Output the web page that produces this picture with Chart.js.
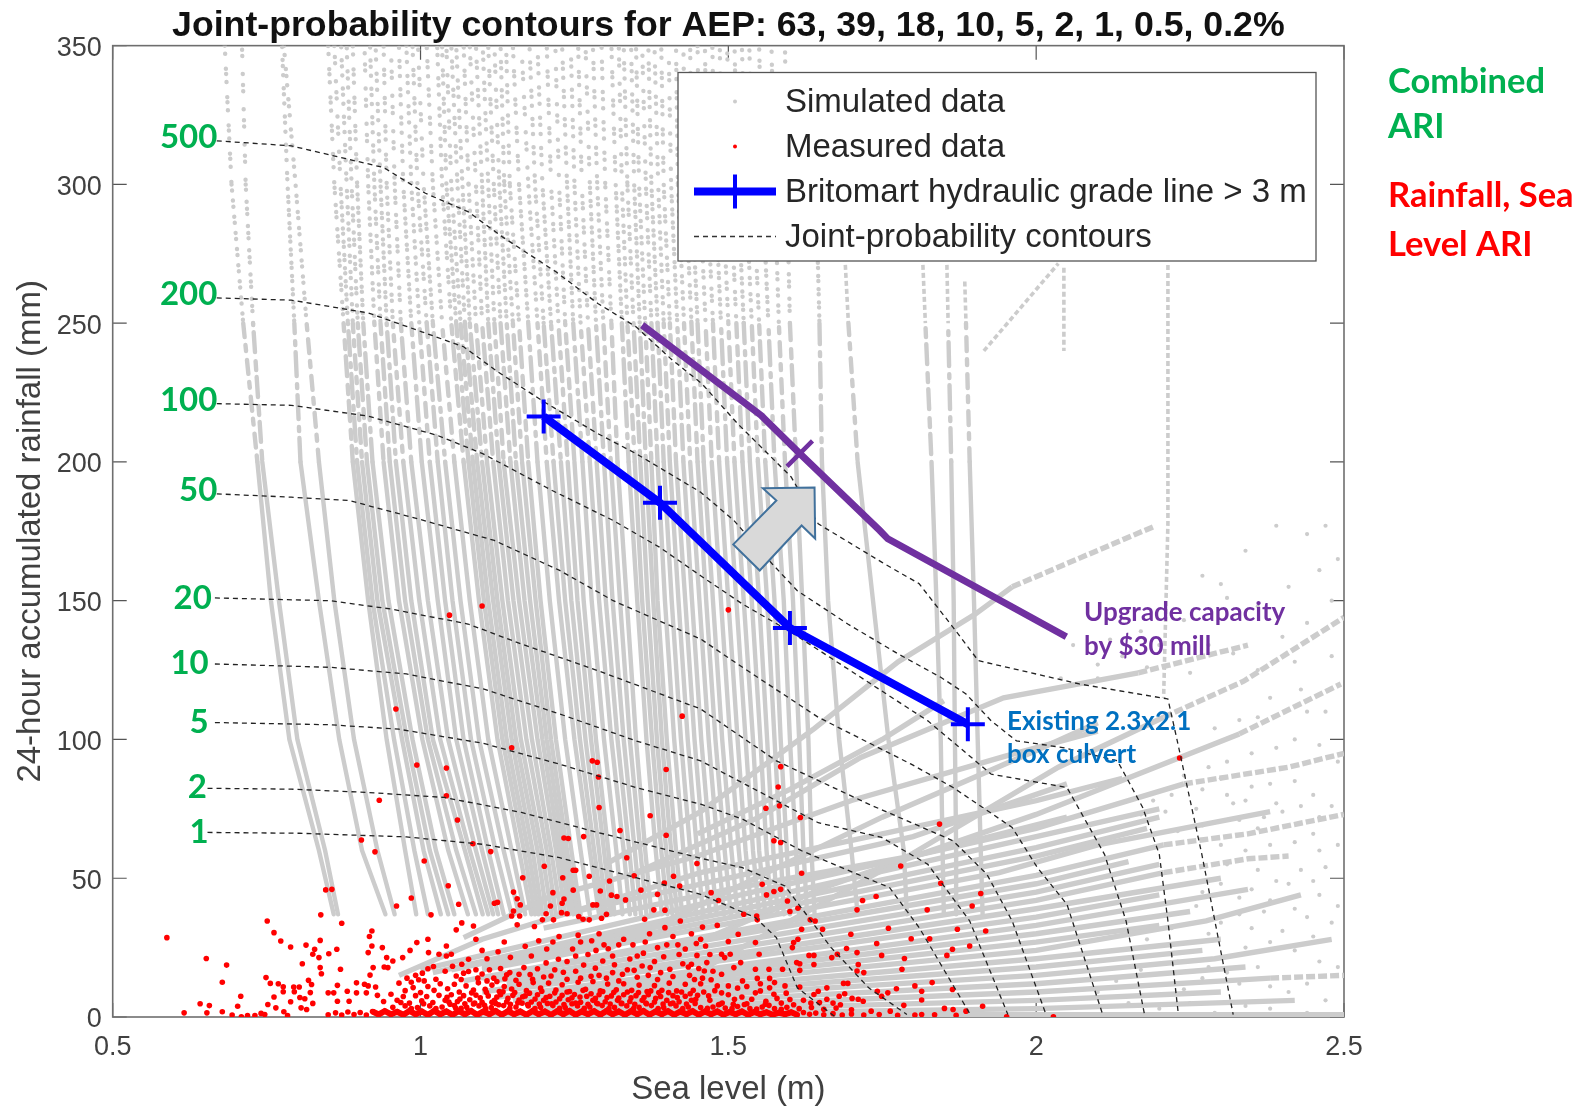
<!DOCTYPE html>
<html>
<head>
<meta charset="utf-8">
<title>Joint-probability contours</title>
<script src="https://cdn.jsdelivr.net/npm/chart.js@4/dist/chart.umd.min.js"></script>
<style>
  body { margin: 0; background: #fff; }
  canvas { display: block; }
</style>
</head>
<body>
<canvas id="joint-chart" width="1592" height="1107"></canvas>
<script>
const titleText = 'Joint-probability contours for AEP: 63, 39, 18, 10, 5, 2, 1, 0.5, 0.2%';
const xTicks = [0.5, 1, 1.5, 2, 2.5];
const yTicks = [0, 50, 100, 150, 200, 250, 300, 350];
const legendLabels = ['Simulated data', 'Measured data', 'Britomart hydraulic grade line > 3 m', 'Joint-probability contours'];

// contours, one per ARI
const ariNames = ['500', '200', '100', '50', '20', '10', '5', '2', '1'];
const ariLabelX = [0.67, 0.67, 0.67, 0.67, 0.661, 0.656, 0.656, 0.653, 0.656];
const ariLabelY = [317, 260.4, 222.3, 189.7, 151, 127.5, 106, 82.9, 66.5];
const c500 = [[.669,315.7],[.79,313.9],[.853,310.6],[.94,306.1],[1.008,296.8],[1.077,290.2],[1.133,281.1],[1.22,268.5],[1.288,257.1],[1.35,248.7],[1.409,236.7],[1.457,228.2],[1.515,213.8],[1.602,194.6],[1.646,177.7],[1.749,163.9],[1.81,156.1],[1.865,140.4],[1.906,128.4],[2.07,120],[2.214,114.6],[2.228,100.7],[2.269,58.7],[2.32,.9]];
const c200 = [[.669,259.1],[.79,258.3],[.915,253.7],[1.002,246.9],[1.07,241.5],[1.126,232.4],[1.201,221.6],[1.288,210.2],[1.35,203],[1.455,189.1],[1.509,178.9],[1.571,163.3],[1.612,153.6],[1.694,141.6],[1.776,130.8],[1.845,122.4],[1.886,116.4],[1.927,106.7],[1.968,99.5],[2.043,97.1],[2.132,92.3],[2.173,75.5],[2.2,58.6],[2.214,34.6],[2.231,.9]];
const c100 = [[.669,221],[.79,220.4],[.915,216.5],[1.027,209.6],[1.101,203],[1.213,189.8],[1.313,178.9],[1.388,169.3],[1.455,159],[1.523,148.8],[1.598,139.2],[1.715,122.4],[1.824,106.7],[1.927,87.5],[2.05,82.7],[2.111,58.6],[2.146,34.6],[2.176,.9]];
const c50 = [[.669,188.5],[.79,187.3],[.884,186.1],[.996,179.5],[1.12,171.7],[1.226,160.9],[1.313,150],[1.455,136.2],[1.523,126],[1.646,108],[1.797,91.1],[1.865,82.7],[1.961,68.3],[2.002,53.8],[2.05,40.6],[2.108,.9]];
const c20 = [[.666,151],[.853,150],[.952,147],[1.077,141.6],[1.164,134.4],[1.288,124.8],[1.455,111],[1.578,92.3],[1.728,76.7],[1.865,63.5],[1.92,51.4],[1.961,34.6],[2.016,.9]];
const c10 = [[.666,127.2],[.853,126],[.977,123.6],[1.102,118.2],[1.226,109.2],[1.35,99.5],[1.455,92.3],[1.646,70],[1.749,64.7],[1.824,55],[1.892,34.6],[1.954,.9]];
const c5 = [[.666,106.1],[.853,105.3],[.965,103.7],[1.102,98.6],[1.226,91.1],[1.35,82.7],[1.455,76.7],[1.523,71.3],[1.619,59.9],[1.762,46.6],[1.81,32.2],[1.893,.9]];
const c2 = [[.654,82.4],[.79,82.1],[.915,80.9],[1.039,79.1],[1.164,73.7],[1.288,66.5],[1.455,57.2],[1.523,53.8],[1.592,47.2],[1.667,25],[1.728,10.5],[1.79,.9]];
const c1 = [[.654,66.5],[.803,66.2],[.977,64.9],[1.102,62.2],[1.226,57.4],[1.35,50.2],[1.455,44.2],[1.544,35.8],[1.578,28.6],[1.612,10.5],[1.674,0]];
const contours = [c500, c200, c100, c50, c20, c10, c5, c2, c1];

const blueLine = [[1.2,216.4],[1.389,185.3],[1.6,140.2],[1.889,105.5]];
const purpleLine = [[1.36,249.3],[1.553,216.8],[1.616,203],[1.746,175.3],[1.759,172.3],[1.893,156],[2.049,137]];
const purpleMark = [[1.616,203]];
const arrowShape = [[1.556,190.5],[1.64,190.8],[1.641,172.4],[1.619,177.1],[1.551,160.9],[1.508,170.3],[1.578,186.1]];

// near-vertical simulated streams: x at each rainfall level, null where the stream has no points
const streamLevels = [350, 300, 250, 200, 150, 100, 60, 37];
const streamRows = [
  [.682,.693,.712,.735,.757,.787,.835,.859],
  [.710,.716,.728,.743,.770,.800,.845,.866],
  [.775,.784,.795,.805,.835,.868,.905,.943],
  [.778,.797,.815,.835,.860,.892,.930,.958],
  [.850,.860,.875,.890,.915,.945,.975,.993],
  [.86,.87,.882,.897,.922,.957,.99,1.012],
  [.871,.880,.890,.905,.930,.970,1.005,1.033],
  [.88,.888,.898,.913,.938,.978,1.015,1.045],
  [.89,.897,.907,.922,.948,.987,1.025,1.055],
  [.909,.915,.925,.940,.965,1.003,1.045,1.077],
  [.918,.925,.935,.95,.975,1.012,1.058,1.09],
  [.927,.935,.945,.960,.985,1.020,1.072,1.101],
  [.94,.945,.955,.972,.998,1.032,1.08,1.11],
  [.952,.958,.968,.985,1.012,1.045,1.09,1.118],
  [.965,.972,.985,1.002,1.028,1.058,1.10,1.126],
  [.977,.985,.998,1.015,1.04,1.07,1.11,1.135],
  [.987,.995,1.01,1.028,1.052,1.082,1.122,1.148],
  [.996,1.005,1.02,1.04,1.065,1.095,1.135,1.160],
  [1.01,1.02,1.035,1.055,1.08,1.11,1.148,1.17],
  [1.027,1.035,1.05,1.07,1.095,1.125,1.16,1.18],
  [1.035,1.042,1.058,1.078,1.103,1.133,1.168,1.186],
  [1.042,1.05,1.065,1.085,1.11,1.14,1.175,1.192],
  [1.05,1.06,1.072,1.092,1.118,1.148,1.182,1.198],
  [1.058,1.068,1.08,1.10,1.125,1.155,1.19,1.205],
  [1.07,1.078,1.09,1.108,1.133,1.163,1.197,1.213],
  [1.080,1.09,1.10,1.118,1.142,1.172,1.205,1.22],
  [1.09,1.1,1.11,1.127,1.151,1.181,1.212,1.228],
  [1.101,1.11,1.12,1.135,1.16,1.19,1.22,1.235],
  [1.11,1.119,1.13,1.146,1.169,1.198,1.226,1.242],
  [1.120,1.128,1.14,1.155,1.178,1.205,1.232,1.248],
  [1.13,1.136,1.15,1.165,1.187,1.212,1.238,1.254],
  [1.139,1.145,1.16,1.175,1.195,1.22,1.245,1.26],
  [1.15,1.16,1.175,1.19,1.21,1.235,1.26,1.275],
  [1.164,1.175,1.19,1.205,1.225,1.25,1.275,1.29],
  [1.177,1.186,1.2,1.216,1.235,1.259,1.282,1.296],
  [1.190,1.198,1.212,1.228,1.245,1.268,1.29,1.302],
  [1.205,1.212,1.224,1.239,1.255,1.277,1.298,1.309],
  [1.219,1.225,1.235,1.25,1.265,1.285,1.305,1.315],
  [1.23,1.238,1.248,1.263,1.278,1.298,1.318,1.328],
  [1.244,1.25,1.26,1.275,1.29,1.31,1.33,1.34],
  [1.256,1.262,1.272,1.286,1.301,1.32,1.339,1.349],
  [1.268,1.275,1.285,1.298,1.312,1.33,1.348,1.358],
  [1.28,1.287,1.297,1.309,1.324,1.34,1.357,1.367],
  [1.294,1.30,1.31,1.32,1.335,1.35,1.365,1.375],
  [1.31,1.317,1.327,1.338,1.352,1.367,1.382,1.392],
  [1.322,1.327,1.336,1.348,1.36,1.376,1.391,1.401],
  [1.33,1.336,1.346,1.357,1.369,1.384,1.399,1.409],
  [1.342,1.347,1.356,1.366,1.378,1.392,1.407,1.417],
  [1.350,1.355,1.365,1.375,1.385,1.40,1.415,1.425],
  [1.36,1.366,1.375,1.385,1.397,1.412,1.427,1.437],
  [1.37,1.375,1.385,1.395,1.408,1.423,1.438,1.448],
  [1.38,1.386,1.395,1.405,1.419,1.434,1.449,1.459],
  [1.391,1.395,1.405,1.415,1.43,1.445,1.46,1.47],
  [1.403,1.407,1.417,1.427,1.441,1.456,1.471,1.481],
  [1.415,1.418,1.428,1.438,1.453,1.468,1.483,1.493],
  [1.427,1.43,1.44,1.45,1.464,1.479,1.494,1.504],
  [1.438,1.44,1.45,1.46,1.475,1.49,1.505,1.515],
  [1.45,1.453,1.463,1.473,1.488,1.503,1.517,1.527],
  [1.462,1.465,1.475,1.485,1.5,1.515,1.528,1.538],
  [1.474,1.478,1.488,1.498,1.513,1.528,1.54,1.55],
  [1.486,1.49,1.50,1.51,1.525,1.54,1.55,1.56],
  [1.498,1.503,1.513,1.523,1.538,1.552,1.562,1.57],
  [1.51,1.515,1.525,1.535,1.55,1.563,1.573,1.58],
  [1.522,1.528,1.538,1.548,1.563,1.575,1.585,1.59],
  [1.534,1.54,1.55,1.56,1.575,1.585,1.595,1.60],
  [1.55,1.555,1.565,1.575,1.59,1.6,1.61,1.615],
  [1.57,1.575,1.582,1.592,1.605,1.615,1.622,1.628],
  [1.592,1.595,1.60,1.61,1.62,1.63,1.635,1.64],
  [null,1.642,1.648,1.652,1.662,1.68,1.70,1.71],
  [null,null,1.695,1.71,1.735,1.76,1.785,1.79],
  [null,null,1.82,1.83,1.838,1.845,1.848,1.85],
  [null,null,1.857,1.862,1.866,1.868,1.87,1.87],
  [null,null,1.886,1.892,1.899,1.905,1.91,1.913]
];

// rising simulated streams, fanning out to the lower right
const fanLines = [
  [[1.10,.8],[2.5,.8]],
  [[1.2,.6],[2,3],[2.42,6]],
  [[1.25,1.5],[2,6],[2.3,9]],
  [[1.22,2],[2,9],[2.38,14],[2.5,15]],
  [[1.2,3],[2,12],[2.34,18]],
  [[1.18,4],[2,15],[2.29,21],[2.48,28]],
  [[1.2,5],[2,18],[2.27,24]],
  [[1.16,5],[2,21],[2.3,28]],
  [[1.15,6],[2,24],[2.276,34.6],[2.43,44]],
  [[1.2,8],[2,27],[2.2,33]],
  [[1.17,8],[2,30],[2.25,38]],
  [[1.12,7],[2,33],[2.344,46]],
  [[1.15,10],[2,36],[2.2,44]],
  [[1.1,9],[2,39],[2.3,50]],
  [[1.14,12],[2,42],[2.207,52],[2.344,57],[2.41,58]],
  [[1.12,13],[2,45],[2.2,55]],
  [[1.1,14],[2,48],[2.15,56]],
  [[1.07,13],[2,51],[2.207,62],[2.344,66],[2.5,73]],
  [[1.1,17],[1.94,52],[2.1,62],[2.38,74]],
  [[1.1,18],[2,58],[2.18,68]],
  [[1.05,17],[2,61],[2.2,72]],
  [[1.02,16],[1.5,40],[2,65],[2.2,75]],
  [[1.0,17],[1.5,43],[2,68],[2.24,84],[2.41,90],[2.5,95]],
  [[1.2,3],[1.66,47],[2,73],[2.33,102],[2.495,120]],
  [[.965,15],[1.10,28],[1.455,52],[1.75,66],[2,78],[2.14,86]],
  [[1.35,4],[1.8,59],[2.036,90],[2.207,108],[2.337,121],[2.5,144]],
  [[1.07,28.6],[1.207,43],[1.45,58],[1.7,78],[1.95,94],[2.1,103]],
  [[1.3,24],[1.6,56],[1.75,72],[2,96],[2.1,106]],
  [[1.35,52],[1.55,72],[1.715,93.5],[1.947,115],[2.166,124],[2.344,134]],
  [[1.3,55],[1.455,74],[1.64,104],[1.776,128],[1.9,145],[1.961,155],[2.194,177]],
  [[1.45,66],[1.6,82],[1.75,100],[1.85,114]],
  [[1.2,32],[1.5,46],[1.8,58],[2.05,72]],
  [[1.25,38],[1.5,50],[1.8,65],[2.05,84]]
];
// short streaks in the upper right and the top ends of the last streams
const extraStreaks = [
  [[2.214,271],[2.214,178],[2.207,115]],
  [[2.045,270],[2.045,240]],
  [[1.915,240],[2.036,271.5]],
  [[1.816,271],[1.82,250]],
  [[1.855,271],[1.857,250]],
  [[1.884,265],[1.886,250]],
  [[1.69,271],[1.695,250]]
];
// loose simulated points on the right
const simDots = [[2.47,177],[2.44,174],[2.39,177],[2.34,168],[2.27,159],[2.31,151],[2.24,143],[2.17,139],[2.12,136],[2.06,134],[2.49,165],[2.46,161],[2.41,155],[2.36,148],[2.30,156],[2.04,122],[2.1,127],[2.18,126],[2.25,124],[2.36,125],[2.42,128],[2.47,110],[2.44,110],[2.36,108],[2.33,107],[2.29,104],[2.42,100],[2.46,98],[2.49,92],[2.38,84],[2.35,83],[2.30,86],[2.27,82],[2.42,85],[2.45,80],[2.48,76],[2.39,77],[2.32,77],[2.26,75],[2.21,74],[2.17,73],[2.36,68],[2.33,71],[2.27,69],[2.23,67],[2.41,69],[2.45,66],[2.49,62],[2.47,54],[2.43,53],[2.39,49],[2.35,46],[2.30,48],[2.27,45],[2.46,44],[2.49,40],[2.42,39],[2.37,38],[2.33,37],[2.28,30],[2.34,25],[2.38,27],[2.42,24],[2.46,20],[2.36,18],[2.31,16],[2.27,14],[2.41,9],[2.47,6],[2.34,4],[2.2,3],[2.44,1.5],[2.29,1.5],[2.13,13],[2.17,17],[2.1,9],[2.24,10],
  [2.24,87],[2.22,80],[2.19,78],[2.28,90],[2.31,92],[2.35,95],[2.39,97],[2.31,80],[2.34,78],[2.37,72],[2.4,74],[2.43,76],[2.46,72],[2.3,62],[2.34,60],[2.38,62],[2.42,63],[2.46,60],[2.31,55],[2.36,53],[2.41,48],[2.45,49],[2.33,43],[2.38,42],[2.44,36],[2.48,34],[2.3,34],[2.35,32],[2.4,31],[2.45,29],[2.26,40],[2.22,32],[2.18,28],[2.23,20],[2.28,18],[2.33,12],[2.38,11],[2.44,12],[2.49,18],[2.15,5],[2.25,5],[2.38,3],[2.1,122],[2.14,130],[2.2,134],[2.28,134],[2.32,131],[2.4,137],[2.44,142],[2.48,150],[2.38,115],[2.43,118],[2.48,130]];

// measured data: loose points, the dense cloud, then the band along the axis
const measuredLoose = [[1.1,148.1],[1.047,144.8],[.96,111],[.994,90.8],[1.042,89.7],[1.148,97],[1.425,108.4],[1.279,92.3],[1.287,91.8],[1.399,89.2],[1.289,86.5],[1.29,75.5],[.933,78.1],[1.042,79.7],[1.06,71],[1.373,72.5],[1.324,67.2],[1.399,65.5],[.904,63.8],[.926,59.5],[1.085,62.4],[1.114,59.6],[1.233,64.5],[1.24,64.3],[1.265,65],[1.006,56.2],[1.335,57.4],[1.449,55.3],[1.201,54.3],[1.248,52.9],[1.252,52.9],[1.166,50.2],[1.231,50.2],[1.274,50.7],[1.307,49],[1.347,50.9],[1.411,50.7],[1.396,48.3],[1.421,47.2],[.846,45.8],[.856,46],[1.045,47.3],[1.248,45.7],[1.292,45.4],[1.358,45.7],[1.151,45],[1.215,44.8],[.985,42.9],[1.31,43.9],[1.319,43.4],[1.333,42.2],[1.385,44.2],[1.12,41],[1.125,41.3],[1.157,42.6],[1.162,40.4],[1.233,42.5],[1.23,41],[1.062,40.6],[1.28,40.4],[1.286,40.4],[.961,40],[1.379,38.6],[1.397,38.5],[1.211,40],[1.151,38.2],[1.148,36.4],[1.161,36.4],[1.017,36.8],[1.204,37.2],[1.229,37.6],[1.238,37.2],[1.302,37],[1.257,36.2],[1.264,35.2],[1.274,35],[1.294,35.6],[.838,36.8],[.751,34.6],[.872,33.8],[1.198,35],[1.216,35],[1.157,33.2],[1.185,32.6],[1.364,35.2],[1.422,34.6],[1.397,32.2],[.921,31],[.917,29],[1.086,32.8],[1.058,31.4],[1.067,33.9],[.588,28.6],[.762,30.4],[.773,27.4],[.789,25.2],[.814,25.9],[.837,27.6],[.828,24.4],[.864,24.4],[.825,22.6],[.851,22.8],[.835,21.4],[.652,21.1],[.685,18.7],[.808,19.2],[.837,17.8],[.839,15.6],[.87,17.2],[.749,14.2],[.678,12.5],[.756,12.1],[.769,12],[.818,13.2],[.823,11.7],[.708,7.5],[.642,4.8],[.657,4.1],[.703,3.9],[.616,1.5],[.653,1.5],[.794,10.8],[.803,10.8],[.777,10.9],[.777,9.1],[.795,9.1],[.821,8.8],[.762,7.2],[.804,7],[.812,6.6],[.752,4.5],[.789,5.5],[.765,3.3],[.778,1.9],[.825,4.9],[.806,3.3],[.815,2.7],[.678,1.9],[.694,.7],[.709,.1],[.719,.5],[.731,.5],[.741,1.3],[.747,.9],[.784,.5],
  [1.5,146.7],[1.585,90.2],[1.581,82.9],[1.561,75.2],[1.583,76.1],[1.617,71.9],[1.843,69.5],[2.233,93.3],[1.574,63.5],[1.585,62.9],[1.619,51.8],[1.78,54.4],[1.555,47.8],[1.585,46],[1.574,45.2],[1.562,44],[1.845,48.2],[1.91,44.5],[1.472,44.8],[1.596,41.8],[1.484,42],[1.718,42],[1.74,43.4],[1.896,40],[1.525,37],[1.546,36.4],[1.613,39.2],[1.6,38],[1.709,38.6],[1.823,38.6],[1.633,35],[1.641,34.6],[1.547,35],[1.458,32.4],[1.482,33],[1.619,31.6],[1.653,31.6],[1.76,32],[1.872,31.6],[1.918,31],[1.516,29.8],[1.699,29.8],[1.797,28.2],[1.827,28.2],[1.613,28],[1.606,26.8],[1.544,26.8],[1.5,27.2],[1.463,25.6],[1.604,25],[1.741,26.5],[1.892,25.6],[1.692,24.7],[1.709,23.2],[1.864,24.4],[1.855,22.2],[1.489,22.6],[1.503,22.6],[1.494,21.4],[1.55,22.6],[1.631,22.2],[1.639,22.2],[1.677,22.6],[1.668,21.4],[1.749,22.2],[1.786,21.1],[1.611,19.6],[1.616,19.2],[1.639,18.9],[1.711,18.9],[1.782,17.2],[1.52,19.6],[1.509,17.8],[1.544,17.2],[1.566,17.2],[1.588,17.2],[1.616,16.8],[1.709,16.6],[1.72,16],[1.465,19.6],[1.461,16.6],[1.489,15.4],[1.523,13],[1.547,13.9],[1.567,13.9],[1.831,12.4],[1.687,12.1],[1.694,12.1],[1.66,10.5],[1.646,9.3],[1.616,10.8],[1.567,10.5],[1.489,8.7],[1.803,11.2],[1.814,9.3],[1.773,10.2],[1.759,8.7],[1.742,9.3],[1.749,7.5],[1.864,9.9],[1.689,8.4],[1.68,7.5],[1.639,8.1],[1.6,6.3],[1.579,6.7],[1.561,5.7],[1.544,8.7],[1.701,6.7],[1.711,6.4],[1.719,5.7],[1.66,6.4],[1.814,6.1],[1.785,4.2],[1.913,3.9],[1.851,3.1],[1.865,2.7],[1.886,2.1],[1.763,2.1],[1.732,2.1],[1.803,.7],[1.814,.9],[1.952,.1],[2.028,.1]
];
const measuredCloud = [[.921,25.6],[.938,25],[.915,23.2],[.945,21.4],[.955,20.2],[.971,21.4],[.983,24],[.994,26.8],[1.012,28],[1.013,23.2],[1.042,25.6],[1.03,22.6],[1.042,22],[1.05,22.6],[1.078,20.8],[1.067,19],[.923,17.8],[.941,18],[.947,17.8],[.918,15.1],[.865,11.4],[.881,9.3],[.896,12.3],[.909,11.8],[.915,11.2],[.927,10.8],[.859,8.7],[.85,8.7],[.896,8.7],[.912,8.7],[.865,5.7],[.884,5.7],
  [1.003,15.8],[1.012,17.4],[1.021,18.2],[.978,14],[.985,12.5],[.992,15],[.997,13.4],[1.006,13],[1.025,13.6],[1.04,16.5],[1.052,18.3],[1.066,13.5],[1.078,16.4],[1.09,17],[1.1,15.5],[1.112,17],[1.119,14],[1.13,17.5],[1.137,13.8],[1.145,16],[1.155,13.2],[1.168,17.8],[1.178,15.3],[1.19,17.4],[1.204,19.5],[1.212,14.8],[1.224,20.8],[1.232,16.1],[1.247,24.5],[1.265,18.7],[1.272,22.5],[1.284,17.6],[1.296,20.2],[1.305,24.6],[1.315,18.8],[1.328,15.4],[1.34,20.9],[1.352,14.3],[1.362,23],[1.373,17.8],[1.385,13.5],[1.395,21.7],[1.405,17.2],[1.418,26],[1.426,19.2],[1.437,15],[1.449,22.2],
  [1.09,28],[1.1,24],[1.108,21],[1.126,23.5],[1.136,27],[1.146,21.5],[1.17,25.5],[1.18,22],[1.192,27.5],[1.205,24.5],[1.215,27],[1.225,29],[1.256,29.5],[1.278,27.5],[1.29,30],[1.33,28],[1.345,26],[1.372,30],[1.41,29],[1.44,30],[1.455,28],
  [.965,12.2],[.975,9.5],[.988,10.6],[1.0,8.8],[1.012,11],[1.022,9.6],[1.032,12],[1.044,10.2],[1.055,11.8],[1.063,9],[1.074,11.2],[1.086,9.7],[1.094,12.3],[1.105,10],[1.116,11.5],[1.128,9.2],[1.136,11],[1.148,10.1],[1.16,11.8],[1.172,9.5],[1.183,12.4],[1.195,10.4],[1.208,12.2],[1.22,9.7],[1.23,11.6],[1.242,9.2],[1.256,12.5],[1.268,10],[1.28,12.8],[1.292,9.4],[1.304,11.9],[1.318,9.8],[1.33,12],[1.343,9.6],[1.355,11.5],[1.368,9.2],[1.38,11.3],[1.392,9.6],[1.404,12.2],[1.416,9.4],[1.43,11.8],[1.443,9.6],[1.455,12],
  [.93,7.8],[.94,5.6],[.952,8.2],[.962,6],[.972,7.4],[.982,5],[.992,7.7],[1.002,5.8],[1.01,7.4],[1.02,5.2],[1.03,7.8],[1.04,6],[1.05,8],[1.06,5.6],[1.07,7.7],[1.08,6.2],[1.09,7.9],[1.1,5.3],[1.11,7.6],[1.12,6],[1.13,8],[1.14,5.5],[1.15,7.8],[1.16,6.1],[1.17,7.6],[1.18,5.4],[1.19,8],[1.2,6],[1.21,7.5],[1.22,5.4],[1.23,7.8],[1.24,6.2],[1.25,8.1],[1.26,5.3],[1.27,7.5],[1.28,6],[1.29,8],[1.3,5.5],[1.31,7.6],[1.32,6],[1.33,8],[1.34,5.6],[1.35,7.7],[1.36,6],[1.37,8],[1.38,5.4],[1.39,7.4],[1.4,6],[1.41,7.7],[1.42,5.5],[1.43,7.5],[1.44,6],[1.45,7.8],[1.47,6],[1.49,5],[1.51,6.4],[1.53,4.8],
  [.955,3.5],[.975,4],[.995,3.4],[1.015,4],[1.035,3.6],[1.055,4.1],[1.075,3.5],[1.095,4],[1.115,3.4],[1.135,4.1],[1.155,3.6],[1.175,4],[1.195,3.5],[1.215,4.1],[1.235,3.4],[1.255,4],[1.275,3.6],[1.295,4.1],[1.315,3.5],[1.335,4],[1.355,3.5],[1.375,4.1],[1.395,3.4],[1.415,4],[1.435,3.6],[1.455,3.4],[1.475,3.6],[1.495,3.2],[1.515,3.8],[1.535,3],[1.555,3.6],[1.575,3],[1.595,3.5],[1.615,3],[1.635,3.4],[1.655,2.8],[1.675,3.2],[1.7,2.6]];
// extra points in the core of the cloud, where dots run together
const measuredCore = [[1.043,7.1],[1.048,4.6],[1.057,3.2],[1.064,6.5],[1.072,4.8],[1.083,8.7],[1.088,5],[1.097,6.9],[1.104,4.2],[1.107,8.9],[1.116,5.3],[1.124,7.2],[1.127,4.4],[1.134,9.1],[1.142,6.7],[1.146,4.6],[1.153,8.8],[1.158,5.1],[1.166,7.3],[1.174,4.5],[1.177,8.6],[1.186,6.5],[1.193,4.7],[1.197,9.3],[1.204,7],[1.213,4.8],[1.218,8.7],[1.226,6.6],[1.233,4.5],[1.238,9],[1.246,6.9],[1.252,5],[1.259,7.2],[1.264,9.6],[1.272,4.6],[1.277,8.4],[1.284,6.7],[1.288,4.8],[1.296,9.2],[1.303,7],[1.308,4.7],[1.314,8.9],[1.322,6.8],[1.327,4.9],[1.336,9],[1.342,6.9],[1.348,4.6],[1.354,8.8],[1.363,7],[1.367,4.8],[1.374,9.4],[1.382,6.7],[1.387,8.8],[1.394,4.7],[1.403,8.8],[1.41,5],[1.417,7],[1.424,9],[1.432,4.7],[1.438,8.4],[1.447,6.4],[1.46,9],[1.468,7.6],[1.478,9.5],[1.484,4.4],[1.5,8],[1.508,4.6],[1.522,7.2],[1.538,6.4],[1.552,9.4],[1.56,4.6],[1.574,8.2],[1.586,5],[1.594,8.6],[1.606,4.4],[1.622,6],[1.634,5],[1.648,5.2],[1.67,5],[1.682,4.4],
  [1.058,14.8],[1.07,15.8],[1.093,14],[1.108,13],[1.124,12.8],[1.14,15.2],[1.16,15.4],[1.182,13.6],[1.2,14.4],[1.218,17],[1.238,13.6],[1.252,16.5],[1.26,14],[1.277,14.7],[1.29,15],[1.302,14],[1.312,16],[1.322,13],[1.336,17],[1.347,16.8],[1.36,18.4],[1.37,15],[1.38,20],[1.39,16],[1.41,14.6],[1.42,22.5],[1.435,18],[1.445,13.5],[1.458,14],[1.472,13.4],[1.482,11.2],[1.5,11.2],[1.515,10.4],[1.53,11],[1.552,12],[1.575,12.4],[1.592,11.2],
  [1.238,20],[1.252,22],[1.26,27],[1.285,24],[1.298,26],[1.312,22],[1.322,26],[1.352,22],[1.365,27],[1.385,25],[1.4,26],[1.43,24.5],[1.448,26.5],[1.44,19],[1.452,17.5],[1.47,22.5],[1.475,16.5],
  [.968,5.2],[.985,3],[1.005,4.8],[1.025,3],[1.046,5.4],[1.066,3.1],[1.086,4.7],[1.106,3],[1.122,4.9],[1.145,3.1],[1.165,5],[1.186,3],[1.206,4.9],[1.226,3.1],[1.246,4.8],[1.266,3.1],[1.286,5],[1.306,3],[1.326,4.9],[1.346,3],[1.366,5],[1.386,3],[1.406,4.8],[1.426,3],[1.446,4.9],[1.466,3.1],[1.486,4.6],[1.506,3],[1.526,4.5],[1.546,2.9],[1.566,4.2],[1.586,2.8]];
const measuredBand = [[.85,.8],[.862,1.5],[.872,.7],[.882,1.8],[.892,.9],[.902,1.6],[.912,.7],[.922,2],[.932,.9],[.942,2.1],[.952,1],[.962,1.9],[.972,.8],[.982,2.2],[.992,1],[1.002,2],[1.012,.8],[1.022,2.2],[1.032,1],[1.042,2],[1.052,.8],[1.062,2.1],[1.072,1],[1.082,2.2],[1.092,.8],[1.102,2],[1.112,1],[1.122,2.2],[1.132,.8],[1.142,2.1],[1.152,1],[1.162,2],[1.172,.8],[1.182,2.2],[1.192,1],[1.202,2],[1.212,.8],[1.222,2.1],[1.232,1],[1.242,2.2],[1.252,.8],[1.262,2],[1.272,1],[1.282,2.1],[1.292,.8],[1.302,2.2],[1.312,1],[1.322,2],[1.332,.8],[1.342,2.1],[1.352,1],[1.362,2.2],[1.372,.8],[1.382,2],[1.392,1],[1.402,2.1],[1.412,.8],[1.422,2],[1.432,1],[1.442,2.1],[1.452,.8],[1.462,2],[1.472,1],[1.482,2],[1.492,.8],[1.502,1.8],[1.512,1],[1.522,2],[1.532,.8],[1.542,1.8],[1.552,1],[1.562,1.7],[1.572,.8],[1.582,1.6],[1.592,1],[1.602,1.7],[1.612,.8],[1.622,1.6],[1.632,1],[1.642,1.4],[1.655,.8],[1.67,1.2],[1.685,.7],[1.7,1.1],[1.72,.7],[1.745,.9],[1.775,.6],[1.835,.8],[1.87,.6]];

const GREY = '#cccccc';
const RED = '#ff0000';
const xy = pts => pts.filter(p => p[0] !== null).map(p => ({ x: p[0], y: p[1] }));
const lineSet = (pts, extra) => Object.assign({ data: xy(pts), showLine: true, pointRadius: 0, pointHoverRadius: 0, borderCapStyle: 'butt', fill: false, tension: 0 }, extra);

// streams break into irregular dots higher up
const dotPatterns = [[0.1,8,0.1,15,0.1,5], [0.1,11,0.1,6,0.1,18], [0.1,6,0.1,9,0.1,13], [0.1,14,0.1,7,0.1,9]];
const midPatterns = [[0.1,6,0.1,10], [0.1,7,0.1,5,0.1,12], [0.1,5,0.1,8]];
const lowPatterns = [[14,8,6,9], [9,7,20,9], [24,8,4,7]];
const streamSegment = i => ({
  borderDash(ctx) {
    const top = ctx.p0.parsed.y;
    if (top >= 340) return dotPatterns[i % 4];
    if (top >= 295) return midPatterns[i % 3];
    if (top >= 245) return lowPatterns[i % 3];
    return undefined;
  },
  borderDashOffset: () => i * 7
});
const fanSegment = {
  borderDash(ctx) {
    const p = ctx.p0.parsed;
    return (p.x >= 2.14 && p.y >= 40) || p.x >= 2.33 || p.y >= 150 ? [9, 3] : undefined;
  }
};

// first dataset is drawn on top in Chart.js, so the overlays come first
const datasets = [];
datasets.push(lineSet(purpleMark, { label: 'Upgrade marker', showLine: false, pointStyle: 'crossRot', pointRadius: 18, pointBorderWidth: 4.5, borderColor: '#7030a0', backgroundColor: '#7030a0' }));
datasets.push(lineSet(purpleLine, { label: 'Upgrade capacity', borderColor: '#7030a0', borderWidth: 7 }));
datasets.push(lineSet(blueLine, { label: legendLabels[2], borderColor: '#0000ff', borderWidth: 8, pointStyle: 'cross', pointRadius: 17, pointBorderWidth: 4, pointBackgroundColor: '#0000ff', pointBorderColor: '#0000ff' }));
contours.forEach((c, i) => datasets.push(lineSet(c, { label: legendLabels[3] + ' ' + ariNames[i], borderColor: '#222222', borderWidth: 1.3, borderDash: [5, 4] })));
[measuredLoose, measuredCloud, measuredCore].forEach(set => datasets.push({ label: legendLabels[1], data: xy(set), pointRadius: 2.8, pointHoverRadius: 0, pointBackgroundColor: RED, pointBorderWidth: 0 }));
datasets.push({
  label: legendLabels[1], data: xy(measuredBand), showLine: true, borderWidth: 6, borderColor: RED,
  pointRadius: 2.8, pointHoverRadius: 0, pointBackgroundColor: RED, pointBorderWidth: 0,
  segment: { borderColor: ctx => (ctx.p0.parsed.x >= .92 && ctx.p1.parsed.x <= 1.62 ? RED : 'rgba(0,0,0,0)') }
});
datasets.push({ label: legendLabels[0], data: xy(simDots), pointRadius: 2.1, pointHoverRadius: 0, pointBackgroundColor: GREY, pointBorderWidth: 0 });
extraStreaks.forEach(s => datasets.push(lineSet(s, { label: legendLabels[0], borderColor: GREY, borderWidth: 3.6, borderDash: [5, 3] })));
fanLines.forEach(f => datasets.push(lineSet(f, { label: legendLabels[0], borderColor: GREY, borderWidth: 5.4, segment: fanSegment })));
streamRows.forEach((row, i) => datasets.push(lineSet(row.map((x, j) => [x, streamLevels[j]]), {
  label: legendLabels[0], borderColor: GREY, borderWidth: 4.4, borderCapStyle: 'round', segment: streamSegment(i)
})));

const insideTicks = {
  id: 'insideTicks',
  beforeDatasetsDraw(chart) {
    const { ctx, chartArea: a, scales: { x, y } } = chart;
    const len = 14;
    ctx.save();
    ctx.strokeStyle = '#555555';
    ctx.lineWidth = 1.2;
    ctx.beginPath();
    x.ticks.forEach(t => {
      const px = x.getPixelForValue(t.value);
      ctx.moveTo(px, a.bottom); ctx.lineTo(px, a.bottom - len);
      ctx.moveTo(px, a.top); ctx.lineTo(px, a.top + len);
    });
    y.ticks.forEach(t => {
      const py = y.getPixelForValue(t.value);
      ctx.moveTo(a.left, py); ctx.lineTo(a.left + len, py);
      ctx.moveTo(a.right, py); ctx.lineTo(a.right - len, py);
    });
    ctx.stroke();
    ctx.strokeStyle = '#6e6e6e';
    ctx.lineWidth = 1.6;
    ctx.strokeRect(a.left, a.top, a.right - a.left, a.bottom - a.top);
    ctx.restore();
  }
};

const overlays = {
  id: 'overlays',
  afterDatasetsDraw(chart) {
    const { ctx, scales: { x, y } } = chart;
    ctx.save();

    // block arrow
    ctx.beginPath();
    arrowShape.forEach((p, i) => {
      const px = x.getPixelForValue(p[0]), py = y.getPixelForValue(p[1]);
      if (i) ctx.lineTo(px, py); else ctx.moveTo(px, py);
    });
    ctx.closePath();
    ctx.fillStyle = '#d9d9d9';
    ctx.fill();
    ctx.strokeStyle = '#41719c';
    ctx.lineWidth = 2;
    ctx.stroke();

    // ARI labels on the contours
    ctx.font = 'bold 33px Lato';
    ctx.fillStyle = '#00b050';
    ctx.textAlign = 'right';
    ctx.textBaseline = 'middle';
    ariNames.forEach((n, i) => ctx.fillText(n, x.getPixelForValue(ariLabelX[i]), y.getPixelForValue(ariLabelY[i])));

    // side notes
    ctx.textAlign = 'left';
    ctx.fillStyle = '#00b050';
    ctx.font = 'bold 34.5px Lato';
    ctx.fillText('Combined', 1388, 82);
    ctx.fillText('ARI', 1388, 127);
    ctx.fillStyle = '#ff0000';
    ctx.fillText('Rainfall, Sea', 1388, 196);
    ctx.fillText('Level ARI', 1388, 245);
    ctx.fillStyle = '#7030a0';
    ctx.font = 'bold 26px Lato';
    ctx.fillText('Upgrade capacity', 1084, 613);
    ctx.fillText('by $30 mill', 1084, 647);
    ctx.fillStyle = '#0070c0';
    ctx.fillText('Existing 2.3x2.1', 1007, 722);
    ctx.fillText('box culvert', 1007, 755);

    // legend box
    ctx.fillStyle = '#ffffff';
    ctx.fillRect(678, 72.5, 638, 188.5);
    ctx.strokeStyle = '#555555';
    ctx.lineWidth = 1.3;
    ctx.strokeRect(678, 72.5, 638, 188.5);
    const rows = [101.5, 146.5, 191.5, 236.5];
    ctx.font = '33px "Liberation Sans"';
    ctx.fillStyle = '#262626';
    legendLabels.forEach((t, i) => ctx.fillText(t, 785, rows[i] + 1.5));
    ctx.fillStyle = GREY;
    ctx.beginPath(); ctx.arc(735, rows[0], 2, 0, 7); ctx.fill();
    ctx.fillStyle = '#ff0000';
    ctx.beginPath(); ctx.arc(735, rows[1], 2, 0, 7); ctx.fill();
    ctx.strokeStyle = '#0000ff';
    ctx.lineWidth = 8;
    ctx.beginPath(); ctx.moveTo(694, rows[2]); ctx.lineTo(776, rows[2]); ctx.stroke();
    ctx.lineWidth = 4;
    ctx.beginPath(); ctx.moveTo(735, rows[2] - 17); ctx.lineTo(735, rows[2] + 17); ctx.stroke();
    ctx.strokeStyle = '#333333';
    ctx.lineWidth = 1.3;
    ctx.setLineDash([5, 4]);
    ctx.beginPath(); ctx.moveTo(694, rows[3]); ctx.lineTo(776, rows[3]); ctx.stroke();
    ctx.restore();
  }
};

const tickFont = { family: '"Liberation Sans"', size: 27 };
const titleFont = { family: '"Liberation Sans"', size: 33 };

new Chart(document.getElementById('joint-chart'), {
  type: 'scatter',
  data: { datasets },
  plugins: [insideTicks, overlays],
  options: {
    responsive: false,
    animation: false,
    events: [],
    layout: { padding: { left: 0, right: 248, top: 0, bottom: 0 } },
    plugins: {
      legend: { display: false },
      tooltip: { enabled: false },
      title: {
        display: true,
        fullSize: false,
        text: titleText,
        color: '#111111',
        align: 'center',
        font: { family: '"Liberation Sans"', size: 35.7, weight: 'bold' },
        padding: { top: 4.5, bottom: -1.7 }
      }
    },
    scales: {
      x: {
        type: 'linear',
        min: 0.5,
        max: 2.5,
        afterBuildTicks: s => { s.ticks = xTicks.map(value => ({ value })); },
        afterFit: s => { s.height = 90; },
        grid: { display: false },
        border: { display: false },
        ticks: { color: '#404040', font: tickFont, padding: 6, maxRotation: 0, callback: v => String(v) },
        title: { display: true, text: 'Sea level (m)', color: '#404040', font: titleFont, padding: { top: 0, bottom: -3 } }
      },
      y: {
        type: 'linear',
        min: 0,
        max: 350,
        afterBuildTicks: s => { s.ticks = yTicks.map(value => ({ value })); },
        afterFit: s => { s.width = 112.7; },
        grid: { display: false },
        border: { display: false },
        // the blank first line nudges each label down to sit on its tick as in the original
        ticks: { color: '#404040', font: { family: '"Liberation Sans"', size: 27, lineHeight: '6px' }, padding: 3, callback: v => ['', String(v)] },
        title: { display: true, text: '24-hour accumulated rainfall (mm)', color: '#404040', font: titleFont, padding: { top: 11, bottom: 0 } }
      }
    }
  }
});
</script>
</body>
</html>
